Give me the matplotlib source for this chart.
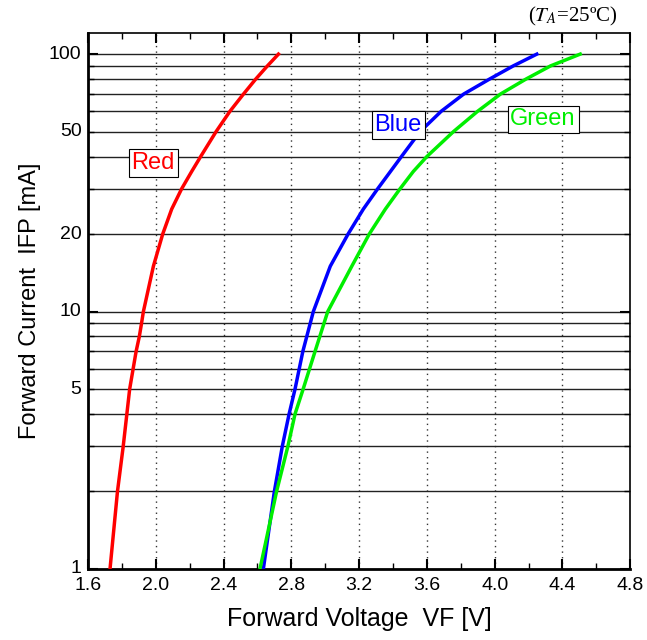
import matplotlib
matplotlib.use("Agg")
import matplotlib.pyplot as plt
from matplotlib.ticker import FixedLocator, NullFormatter, FixedFormatter

plt.rcParams['font.family'] = ['Liberation Sans', 'DejaVu Sans']
plt.rcParams['mathtext.fontset'] = 'stix'

# Forward current (mA) and forward voltage (V)
red_i = [1, 2, 3, 5, 7, 8, 9, 10, 15, 20, 25, 30, 35, 40, 50, 60, 70, 80, 90, 100]
red_v = [1.73, 1.774, 1.808, 1.846, 1.884, 1.903, 1.916, 1.927, 1.986, 2.041, 2.094, 2.153, 2.212,
         2.265, 2.356, 2.438, 2.518, 2.59, 2.659, 2.724]

blue_i = [1, 2, 3, 4, 5, 7, 10, 15, 20, 25, 30, 35, 40, 50, 60, 70, 80, 90, 100]
blue_v = [2.635, 2.70, 2.747, 2.787, 2.822, 2.868, 2.93, 3.03, 3.135, 3.225, 3.31, 3.385, 3.45,
          3.56, 3.685, 3.818, 3.97, 4.11, 4.249]

green_i = [1, 2, 3, 4, 5, 7, 10, 15, 20, 25, 30, 35, 40, 50, 60, 70, 80, 90, 100]
green_v = [2.615, 2.713, 2.78, 2.822, 2.87, 2.94, 3.015, 3.157, 3.26, 3.355, 3.442, 3.52, 3.60,
           3.757, 3.90, 4.035, 4.185, 4.33, 4.505]

x_ticks = [1.6, 2.0, 2.4, 2.8, 3.2, 3.6, 4.0, 4.4, 4.8]
x_tick_labels = ["1.6", "2.0", "2.4", "2.8", "3.2", "3.6", "4.0", "4.4", "4.8"]
y_labelled = [1, 5, 10, 20, 50, 100]
y_grid = [2, 3, 4, 5, 6, 7, 8, 9, 10, 20, 30, 40, 50, 60, 70, 80, 90, 100]

fig = plt.figure(figsize=(6.47, 6.40), dpi=100)
ax = fig.add_axes([0.136, 0.111, 0.838, 0.837])

ax.set_yscale('log')
ax.set_xlim(1.6, 4.8)
ax.set_ylim(1, 120.5)

# grid: dotted verticals, solid horizontals
for v in x_ticks[1:-1]:
    ax.axvline(v, color='#333333', linestyle=(0, (1, 3)), linewidth=1.0, zorder=1)
for g in y_grid:
    ax.axhline(g, color='#222222', linewidth=1.0, zorder=1)

ax.plot(red_v, red_i, color='#ff0000', linewidth=2.5, zorder=3, solid_joinstyle='round')
ax.plot(blue_v, blue_i, color='#0000ff', linewidth=2.5, zorder=3, solid_joinstyle='round')
ax.plot(green_v, green_i, color='#00ee00', linewidth=2.5, zorder=3, solid_joinstyle='round')

box = dict(boxstyle='square,pad=0.12', facecolor='white', edgecolor='black', linewidth=0.8)
ax.text(1.984, 37.7, "Red", color='#ff0000', fontsize=17, ha='center', va='center', bbox=box, zorder=4)
ax.text(3.43, 52.9, "Blue", color='#0000ff', fontsize=17, ha='center', va='center', bbox=box, zorder=4)
ax.text(4.286, 55.8, "Green", color='#00ee00', fontsize=17, ha='center', va='center', bbox=box, zorder=4)

# ticks
ax.xaxis.set_major_locator(FixedLocator(x_ticks))
ax.xaxis.set_major_formatter(FixedFormatter(x_tick_labels))
ax.xaxis.set_minor_locator(FixedLocator([1.8, 2.2, 2.6, 3.0, 3.4, 3.8, 4.2, 4.6]))
ax.yaxis.set_major_locator(FixedLocator([1, 10, 100]))
ax.yaxis.set_minor_locator(FixedLocator(y_grid))
ax.yaxis.set_minor_formatter(NullFormatter())
ax.yaxis.set_major_formatter(NullFormatter())
for val in y_labelled:
    ax.text(-0.012, val, str(val), transform=ax.get_yaxis_transform(), ha='right', va='center', fontsize=14)

ax.tick_params(which='both', direction='in', top=True, right=True, labelsize=14)
ax.tick_params(which='major', length=7, width=1.5)
ax.tick_params(which='minor', length=4, width=1.0)
ax.tick_params(axis='x', pad=6)

for s in ax.spines.values():
    s.set_linewidth(1.2)
ax.spines['bottom'].set_linewidth(2.0)
ax.spines['left'].set_linewidth(2.0)

ax.set_xlabel("Forward Voltage  VF [V]", fontsize=18, labelpad=9)
ax.set_ylabel("Forward Current  IFP [mA]", fontsize=17, labelpad=30)

fig.text(0.955, 0.975, r"($T_A$=25ºC)", ha='right', va='center', fontsize=15,
         family=['Liberation Serif', 'DejaVu Serif'])

fig.savefig("out.png", dpi=100)
